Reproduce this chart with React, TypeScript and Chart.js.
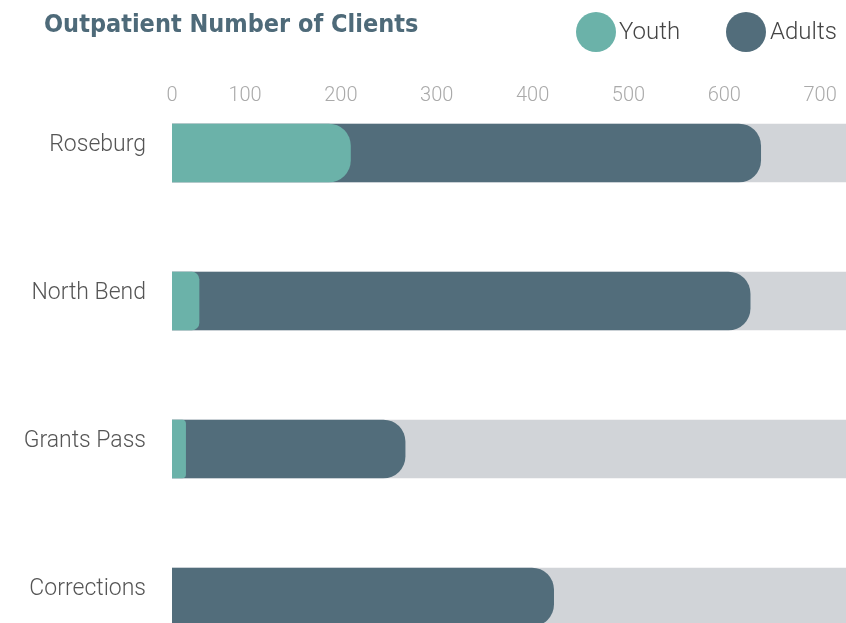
import React, { useEffect, useRef } from "react";
import { Chart, registerables } from "chart.js";

Chart.register(...registerables);

const CATEGORIES = ["Roseburg", "North Bend", "Grants Pass", "Corrections"];
const YOUTH = [210, 52, 38, 0];
const ADULTS = [428, 575, 229, 422];
const X_TICK_VALUES = [0, 100, 200, 300, 400, 500, 600, 700];
const X_TICK_LABELS = ["0", "100", "200", "300", "400", "500", "600", "700"];
const X_MIN = 23.8;
const X_MAX = 727;

const TEAL = "#6bb2a9";
const SLATE = "#526d7b";
const TRACK = "#d1d4d8";
const TITLE = "#4e6a79";
const LIGHT_FONT = "Roboto, 'Open Sans', Lato, sans-serif";

export default function App() {
  const ref = useRef<HTMLCanvasElement | null>(null);

  useEffect(() => {
    const totals = YOUTH.map((y, i) => y + ADULTS[i]);
    const clip = { left: 0, right: 0, top: false, bottom: false } as any;
    const chart = new Chart(ref.current as HTMLCanvasElement, {
      type: "bar",
      data: {
        labels: CATEGORIES,
        datasets: [
          {
            label: "Youth",
            data: YOUTH,
            backgroundColor: TEAL,
            borderWidth: 0,
            grouped: false,
            barThickness: 58,
            clip,
            borderRadius: (ctx: any) => {
              const c = ctx.chart;
              const xs = c.scales?.x;
              if (!xs || !c.chartArea || ctx.raw == null) return 0;
              const w = xs.getPixelForValue(ctx.raw) - c.chartArea.left;
              const r = Math.max(0, Math.min(22, w * 0.28));
              return { topLeft: 0, bottomLeft: 0, topRight: r, bottomRight: r };
            },
          } as any,
          {
            label: "Adults",
            data: totals,
            backgroundColor: SLATE,
            borderWidth: 0,
            grouped: false,
            barThickness: 58,
            clip,
            borderRadius: { topLeft: 0, bottomLeft: 0, topRight: 22, bottomRight: 22 },
          } as any,
          {
            label: "track",
            data: CATEGORIES.map(() => X_MAX),
            backgroundColor: TRACK,
            borderWidth: 0,
            grouped: false,
            barThickness: 58,
            clip,
          } as any,
        ],
      },
      options: {
        indexAxis: "y",
        responsive: false,
        animation: false,
        layout: { padding: { top: 0, left: 0, right: 0, bottom: 26 } },
        plugins: {
          legend: { display: false },
          title: { display: false },
          tooltip: { enabled: false },
        },
        scales: {
          x: {
            type: "linear",
            position: "top",
            min: X_MIN,
            max: X_MAX,
            grid: { display: false, drawTicks: false },
            border: { display: false },
            afterBuildTicks: (scale: any) => {
              scale.ticks = X_TICK_VALUES.map((v) => ({ value: Math.max(v, X_MIN) }));
            },
            afterFit: (scale: any) => {
              scale.height = 153;
              scale.paddingLeft = 0;
              scale.paddingRight = 0;
            },
            ticks: {
              color: "#aaaaaa",
              font: { family: LIGHT_FONT, size: 20, weight: "300" },
              padding: 45,
              maxRotation: 0,
              autoSkip: false,
              callback: (_v: any, i: number) => X_TICK_LABELS[i],
            },
          },
          y: {
            type: "category",
            offset: false,
            grid: { display: false, drawTicks: false, offset: false },
            border: { display: false },
            afterFit: (scale: any) => {
              scale.width = 172;
              scale.paddingTop = 0;
              scale.paddingBottom = 0;
            },
            ticks: {
              color: "#555555",
              font: { family: LIGHT_FONT, size: 23, weight: "300" },
              padding: 26,
              labelOffset: -8,
              autoSkip: false,
            },
          },
        },
      } as any,
    });
    return () => chart.destroy();
  }, []);

  const legendText: React.CSSProperties = {
    position: "absolute",
    top: 19,
    fontFamily: LIGHT_FONT,
    fontWeight: 300,
    fontSize: 24,
    lineHeight: 1,
    color: "#444",
  };
  const dot = (left: number, color: string): React.CSSProperties => ({
    position: "absolute",
    left,
    top: 12,
    width: 40,
    height: 40,
    borderRadius: "50%",
    background: color,
  });

  return (
    <div
      style={{
        position: "fixed",
        left: 0,
        top: 0,
        width: 846,
        height: 623,
        background: "#fff",
        overflow: "hidden",
      }}
    >
      <canvas ref={ref} width={846} height={623} style={{ display: "block" }} />
      <div
        style={{
          position: "absolute",
          left: 44,
          top: 11,
          fontFamily: "'Liberation Sans Narrow', 'DejaVu Sans Condensed', sans-serif",
          fontWeight: 700,
          fontSize: 25,
          lineHeight: 1,
          color: TITLE,
          whiteSpace: "nowrap",
        }}
      >
        Outpatient Number of Clients
      </div>
      <div style={dot(576, TEAL)} />
      <div style={{ ...legendText, left: 619 }}>Youth</div>
      <div style={dot(726, SLATE)} />
      <div style={{ ...legendText, left: 770 }}>Adults</div>
    </div>
  );
}
